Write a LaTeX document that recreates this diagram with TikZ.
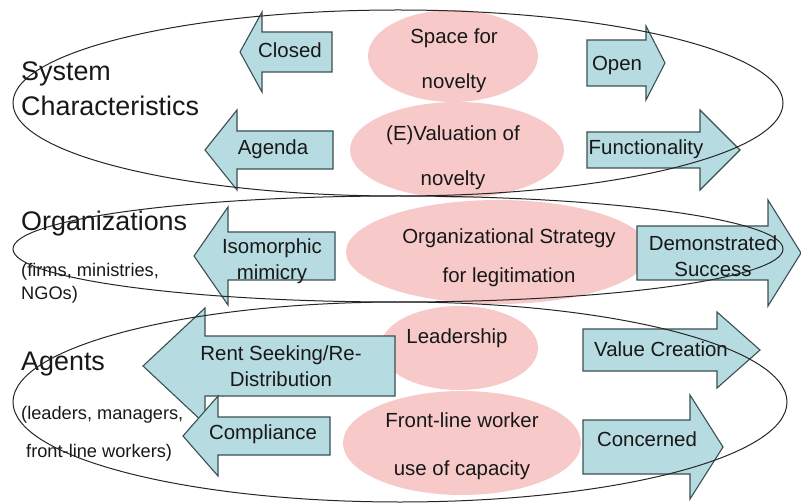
\documentclass[tikz,border=0pt]{standalone}
\usepackage{fontspec}
\setmainfont{Liberation Sans}
\usepackage{tikz}
\usetikzlibrary{shapes,arrows,positioning}
\definecolor{bubble}{RGB}{247,201,201}
\definecolor{arrowfill}{RGB}{182,219,225}
\definecolor{arrowline}{RGB}{58,80,82}
\definecolor{ink}{RGB}{24,24,24}

% fat block arrow: tip x, head base x, tail x, mid y, half body, half head
\newcommand{\blockarrow}[6]{%
  \draw[arrowbox] (#1,#4) -- (#2,#4-#6) -- (#2,#4-#5) -- (#3,#4-#5)
    -- (#3,#4+#5) -- (#2,#4+#5) -- (#2,#4+#6) -- cycle;}

\begin{document}
\begin{tikzpicture}[x=1bp, y=-1bp,
    arrowbox/.style={draw=arrowline, fill=arrowfill, line width=1.1bp},
    ring/.style={draw=black!85, line width=1bp},
    intext/.style={text=ink, inner sep=0pt, align=center, font=\fontsize{20.5}{26}\selectfont},
    bubbletext/.style={text=ink, inner sep=0pt, align=center, font=\fontsize{20.5}{45}\selectfont},
    levellabel/.style={text=ink, inner sep=0pt, align=left, anchor=west, font=\fontsize{27}{35}\selectfont},
    levelnote/.style={text=ink, inner sep=0pt, align=left, anchor=west, font=\fontsize{18.3}{23}\selectfont}]
    \useasboundingbox (0,0) rectangle (801,503);

    % pink bubbles
    \fill[bubble] (453,56) ellipse [x radius=85bp, y radius=46bp];
    \fill[bubble] (457,150) ellipse [x radius=107bp, y radius=48bp];
    \fill[bubble] (498,252) ellipse [x radius=152bp, y radius=52bp];
    \fill[bubble] (459,348) ellipse [x radius=79bp, y radius=42bp];
    \fill[bubble] (462,443) ellipse [x radius=119bp, y radius=52bp];

    % arrows
    \blockarrow{240}{262}{332}{52}{20}{40}
    \blockarrow{205}{237}{333}{150}{19}{40}
    \blockarrow{665}{646}{587}{63}{23}{37}
    \blockarrow{740}{700}{587}{150}{18}{40}
    \blockarrow{194}{228}{335}{256}{24}{49}
    \blockarrow{801}{768}{637}{253}{27}{53}
    \blockarrow{143}{205}{395}{366}{30}{58}
    \blockarrow{183}{218}{330}{436}{19}{40}
    \blockarrow{760}{717}{583}{350}{21}{38}
    \blockarrow{723}{690}{583}{447}{27}{52}

    % texts
    \node[intext] (closed) at (290,50) {Closed};
    \node[intext] (agenda) at (273,149) {Agenda};
    \node[intext] (open) at (617,65) {Open};
    \node[intext] (functionality) at (646,149) {Functionality};
    \node[intext] (mimicry) at (272,261) {Isomorphic\\mimicry};
    \node[intext] (success) at (713,256) {Demonstrated\\Success};
    \node[intext] (rentseeking) at (281,366) {Rent Seeking/Re-\\Distribution};
    \node[intext] (compliance) at (263,434) {Compliance};
    \node[intext] (valuecreation) at (661,349) {Value Creation};
    \node[intext] (concerned) at (647,439) {Concerned};

    \node[bubbletext] (space) at (454,61) {Space for\\novelty};
    \node[bubbletext] (valuation) at (453,158) {(E)Valuation of\\novelty};
    \node[bubbletext, font=\fontsize{20.5}{39}\selectfont] (orgstrategy) at (509,258) {Organizational Strategy\\for legitimation};
    \node[bubbletext] (leadership) at (457,338) {Leadership};
    \node[bubbletext, font=\fontsize{20.5}{48}\selectfont] (frontline) at (462,446) {Front-line worker\\use of capacity};

    \node[levellabel] (syschar) at (21,89) {System\\Characteristics};
    \node[levellabel] (orgs) at (21,224) {Organizations};
    \node[levelnote] (orgsnote) at (21,283) {(firms, ministries,\\NGOs)};
    \node[levellabel] (agents) at (21,364) {Agents};
    \node[levelnote, font=\fontsize{18.3}{38}\selectfont] (agentsnote) at (21,434) {(leaders, managers,\\\hspace{5bp}front-line workers)};

    % the three levels
    \draw[ring] (398,103) ellipse [x radius=385bp, y radius=93bp];
    \draw[ring] (398,249) ellipse [x radius=385bp, y radius=53bp];
    \draw[ring] (400,402) ellipse [x radius=387bp, y radius=100bp];
\end{tikzpicture}
\end{document}
